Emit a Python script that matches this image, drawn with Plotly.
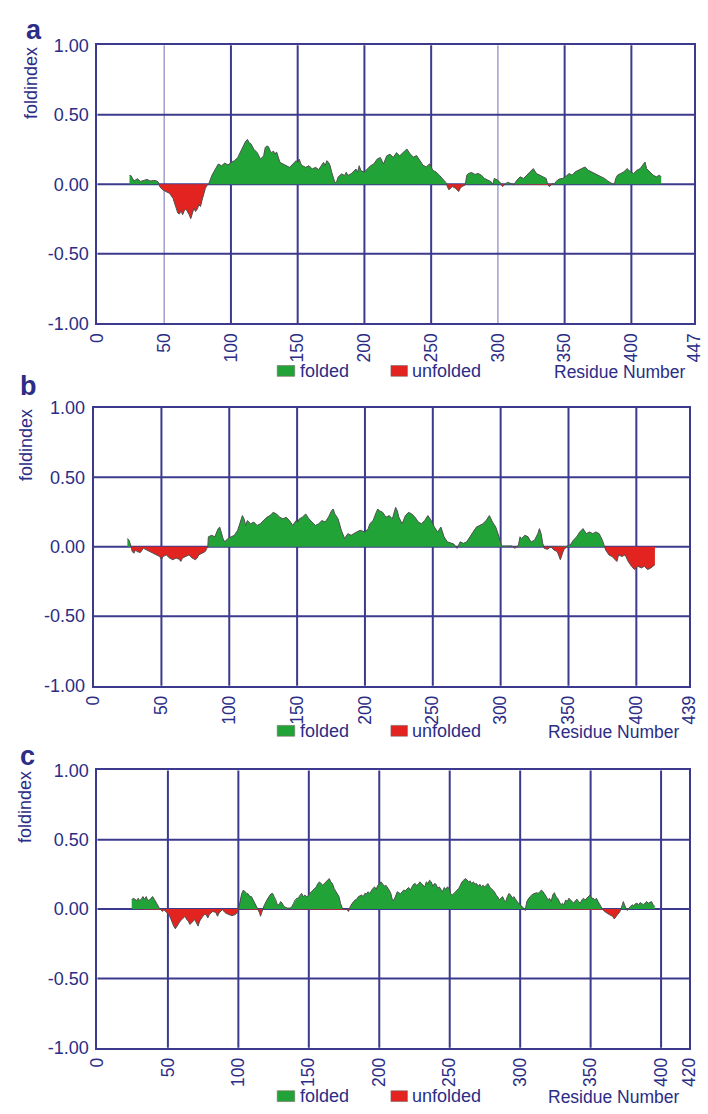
import plotly.graph_objects as go

# FoldIndex profiles (window 51) for three proteins: residue number vs. foldindex

# --- panel a (447 residues) ---
LEN_A = 447
RES_A = [24.0, 25.0, 27.4, 29.9, 32.3, 34.7, 37.1, 39.6, 42.0, 44.4, 45.6, 46.8, 49.3, 51.7, 54.1,
         56.6, 57.8, 59.0, 60.2, 61.4, 62.6, 63.8, 65.0, 66.3, 67.5, 68.7, 69.9, 71.1, 72.3, 73.5,
         74.8, 76.0, 77.2, 78.4, 79.6, 80.8, 82.0, 83.3, 85.7, 88.1, 90.5, 93.0, 95.4, 97.8, 100.2,
         102.7, 105.1, 107.5, 109.9, 111.1, 112.4, 113.6, 114.8, 116.0, 117.2, 119.7, 122.1, 124.5,
         125.7, 126.9, 128.1, 129.4, 130.6, 131.8, 133.0, 134.2, 135.4, 136.7, 139.1, 141.5, 143.9,
         146.4, 148.8, 150.0, 151.2, 152.4, 153.6, 156.1, 158.5, 160.9, 163.3, 165.8, 168.2, 169.4,
         170.6, 171.8, 173.1, 174.3, 175.5, 176.7, 177.9, 179.1, 180.3, 182.8, 185.2, 186.4, 187.6,
         190.0, 192.5, 193.7, 194.9, 196.1, 197.3, 199.8, 202.2, 204.6, 207.0, 209.5, 211.9, 214.3,
         216.7, 219.2, 221.6, 224.0, 226.4, 228.9, 231.8, 234.2, 236.7, 239.1, 241.5, 243.9, 246.4,
         248.8, 251.2, 253.6, 256.1, 258.5, 260.9, 262.1, 263.3, 265.8, 268.2, 270.6, 271.8, 273.1,
         275.5, 276.7, 277.9, 280.3, 282.8, 285.2, 287.6, 290.0, 292.5, 294.9, 296.1, 297.3, 299.8,
         302.2, 303.4, 304.6, 307.1, 309.5, 311.9, 314.3, 316.7, 319.2, 321.6, 324.0, 326.5, 328.9,
         331.3, 333.7, 336.2, 337.4, 338.6, 341.0, 342.2, 343.4, 345.9, 348.3, 350.7, 353.2, 355.6,
         358.0, 360.4, 362.9, 365.3, 367.7, 370.1, 372.6, 375.0, 377.4, 379.9, 382.3, 384.7, 387.1,
         388.3, 389.6, 392.0, 394.4, 396.8, 399.3, 401.7, 404.1, 406.6, 409.0, 410.2, 411.4, 413.9,
         416.3, 418.7, 421.1, 422.3]
FI_A = [0.064, 0.064, 0.024, 0.040, 0.021, 0.028, 0.035, 0.024, 0.028, 0.024, 0.016, -0.019, -0.042,
        -0.054, -0.066, -0.101, -0.137, -0.172, -0.207, -0.214, -0.191, -0.219, -0.191, -0.177,
        -0.196, -0.219, -0.247, -0.207, -0.172, -0.196, -0.177, -0.148, -0.160, -0.113, -0.066,
        -0.031, -0.007, 0.000, 0.064, 0.110, 0.146, 0.134, 0.153, 0.139, 0.158, 0.170, 0.193,
        0.240, 0.287, 0.311, 0.323, 0.299, 0.294, 0.271, 0.252, 0.228, 0.181, 0.205, 0.264, 0.276,
        0.271, 0.240, 0.228, 0.240, 0.217, 0.233, 0.193, 0.158, 0.146, 0.134, 0.122, 0.146, 0.170,
        0.158, 0.181, 0.146, 0.134, 0.122, 0.134, 0.110, 0.122, 0.106, 0.146, 0.158, 0.134, 0.170,
        0.158, 0.134, 0.087, 0.040, 0.012, 0.016, 0.052, 0.075, 0.064, 0.087, 0.064, 0.075, 0.099,
        0.110, 0.087, 0.134, 0.099, 0.087, 0.110, 0.134, 0.146, 0.181, 0.193, 0.146, 0.205, 0.217,
        0.193, 0.228, 0.205, 0.228, 0.254, 0.219, 0.196, 0.207, 0.172, 0.137, 0.125, 0.148, 0.101,
        0.089, 0.066, 0.038, 0.014, -0.016, -0.040, -0.016, -0.028, -0.052, -0.028, -0.016,
        -0.005, 0.066, 0.078, 0.085, 0.071, 0.078, 0.066, 0.042, 0.031, 0.019, -0.005, 0.042,
        0.031, 0.007, -0.016, -0.005, 0.014, 0.007, -0.005, 0.031, 0.054, 0.042, 0.066, 0.090,
        0.113, 0.078, 0.066, 0.054, 0.042, -0.005, -0.016, 0.007, -0.005, 0.019, 0.038, 0.042,
        0.054, 0.078, 0.066, 0.090, 0.101, 0.113, 0.125, 0.101, 0.090, 0.078, 0.066, 0.054, 0.042,
        0.024, 0.007, -0.005, 0.042, 0.066, 0.078, 0.090, 0.113, 0.090, 0.078, 0.101, 0.113, 0.148,
        0.160, 0.113, 0.090, 0.066, 0.054, 0.066, 0.054]

# --- panel b (439 residues) ---
LEN_B = 439
RES_B = [24.9, 26.1, 27.3, 28.5, 29.7, 30.9, 32.1, 34.5, 35.7, 36.9, 39.2, 41.6, 44.0, 46.4, 48.8,
         50.0, 51.2, 53.6, 56.0, 58.4, 60.8, 63.1, 64.3, 65.5, 67.9, 70.3, 72.7, 75.1, 76.3, 77.5,
         79.9, 82.3, 83.5, 84.2, 84.6, 87.0, 89.4, 91.8, 93.0, 94.2, 95.4, 96.6, 99.0, 101.4, 103.8,
         106.2, 108.5, 109.7, 110.9, 112.1, 113.3, 115.7, 118.1, 120.5, 122.9, 125.3, 127.7, 130.0,
         132.4, 134.8, 137.2, 139.6, 142.0, 144.4, 146.8, 149.2, 150.4, 151.6, 153.9, 156.3, 158.7,
         161.1, 163.5, 165.9, 168.3, 170.7, 173.1, 175.4, 176.6, 177.8, 180.2, 182.6, 185.0, 187.4,
         189.8, 191.7, 194.0, 196.4, 200.0, 202.4, 203.6, 206.0, 208.3, 209.5, 210.7, 213.1, 215.5,
         217.9, 220.2, 222.6, 223.8, 225.0, 227.4, 229.8, 232.1, 234.5, 236.9, 239.3, 241.7, 244.0,
         246.4, 248.8, 251.2, 253.6, 256.0, 258.3, 260.7, 263.1, 265.5, 267.9, 270.2, 272.6, 275.0,
         277.4, 279.8, 282.1, 284.5, 286.9, 289.3, 291.7, 294.0, 296.4, 298.8, 300.7, 303.6, 306.0,
         308.3, 310.7, 313.1, 314.3, 315.5, 317.9, 320.2, 321.4, 322.6, 325.0, 327.4, 328.6, 329.8,
         331.0, 332.1, 334.5, 336.9, 339.3, 341.7, 344.0, 345.2, 346.4, 347.6, 348.8, 351.2, 353.6,
         356.0, 358.3, 360.7, 363.1, 365.5, 367.9, 370.2, 372.6, 375.0, 376.2, 377.4, 379.8, 382.1,
         384.5, 385.7, 386.9, 389.3, 391.7, 394.0, 396.4, 398.8, 401.2, 403.6, 406.0, 408.3, 410.7,
         411.9, 413.7]
FI_B = [0.059, 0.047, 0.012, -0.035, -0.047, -0.024, -0.035, -0.042, -0.024, -0.012, -0.024,
        -0.035, -0.047, -0.059, -0.071, -0.094, -0.071, -0.059, -0.082, -0.094, -0.082, -0.090,
        -0.106, -0.082, -0.071, -0.059, -0.082, -0.094, -0.082, -0.059, -0.047, -0.035, -0.012,
        0.000, 0.071, 0.082, 0.071, 0.130, 0.141, 0.094, 0.059, 0.035, 0.059, 0.071, 0.082, 0.118,
        0.188, 0.224, 0.200, 0.153, 0.188, 0.165, 0.177, 0.153, 0.165, 0.188, 0.212, 0.224, 0.247,
        0.236, 0.212, 0.200, 0.212, 0.188, 0.153, 0.188, 0.177, 0.200, 0.212, 0.236, 0.200, 0.177,
        0.153, 0.165, 0.188, 0.177, 0.212, 0.259, 0.271, 0.236, 0.200, 0.118, 0.059, 0.094, 0.082,
        0.094, 0.106, 0.118, 0.106, 0.130, 0.165, 0.188, 0.247, 0.271, 0.259, 0.247, 0.212, 0.224,
        0.200, 0.283, 0.259, 0.212, 0.165, 0.224, 0.247, 0.236, 0.212, 0.177, 0.165, 0.188, 0.224,
        0.188, 0.141, 0.106, 0.141, 0.071, 0.035, 0.024, 0.019, -0.012, 0.035, 0.024, 0.035, 0.071,
        0.106, 0.141, 0.153, 0.165, 0.188, 0.224, 0.177, 0.141, 0.071, 0.005, 0.005, 0.005, 0.005,
        -0.012, 0.012, 0.071, 0.059, 0.082, 0.071, 0.047, 0.035, 0.047, 0.094, 0.130, 0.094, 0.024,
        -0.012, -0.019, 0.000, -0.024, -0.035, -0.094, -0.059, -0.024, -0.012, 0.005, 0.012, 0.047,
        0.071, 0.106, 0.130, 0.094, 0.106, 0.094, 0.106, 0.094, 0.047, 0.005, -0.024, -0.059,
        -0.071, -0.094, -0.106, -0.059, -0.071, -0.059, -0.106, -0.141, -0.165, -0.141, -0.153,
        -0.141, -0.165, -0.153, -0.141, -0.130]

# --- panel c (420 residues) ---
LEN_C = 420
RES_C = [24.3, 25.4, 26.6, 27.7, 28.9, 30.0, 31.1, 32.3, 33.4, 34.6, 35.7, 36.9, 38.0, 39.2, 40.3,
         41.5, 42.6, 43.8, 44.9, 46.1, 47.2, 48.4, 49.5, 50.7, 51.8, 53.0, 54.1, 55.3, 56.4, 57.6,
         58.7, 59.9, 61.0, 62.2, 63.3, 64.5, 65.6, 66.8, 67.9, 69.1, 70.2, 71.4, 72.5, 73.7, 74.8,
         76.0, 77.1, 78.3, 79.4, 80.6, 81.7, 84.0, 85.2, 86.3, 87.5, 88.6, 89.8, 90.9, 93.2, 95.5,
         97.8, 99.0, 100.1, 101.3, 102.4, 103.6, 104.7, 105.9, 107.0, 108.2, 109.3, 110.5, 111.6,
         112.8, 113.9, 115.1, 115.7, 116.7, 117.4, 118.5, 119.7, 120.8, 122.0, 123.1, 124.3, 125.4,
         126.6, 127.7, 128.9, 130.0, 131.1, 132.3, 134.6, 136.9, 138.0, 139.2, 140.3, 141.5, 142.6,
         143.8, 144.9, 146.1, 147.2, 148.4, 149.5, 150.7, 153.0, 155.3, 156.4, 157.6, 158.7, 159.9,
         161.0, 162.2, 163.3, 164.5, 165.6, 166.8, 167.9, 169.1, 170.2, 171.4, 172.5, 173.7, 174.8,
         176.0, 177.1, 178.3, 179.4, 180.6, 181.7, 182.9, 184.0, 185.2, 187.5, 188.6, 189.8, 190.9,
         192.1, 193.2, 194.4, 195.5, 196.7, 197.8, 199.0, 200.1, 201.3, 202.4, 203.6, 204.7, 205.9,
         207.0, 208.2, 209.3, 210.5, 211.6, 212.8, 213.9, 215.1, 216.2, 217.4, 218.5, 219.7, 220.8,
         222.0, 223.1, 224.3, 225.4, 226.6, 227.7, 228.9, 230.0, 231.1, 232.3, 233.4, 234.6, 235.7,
         236.9, 238.0, 239.2, 240.3, 241.5, 242.6, 243.8, 244.9, 246.1, 247.2, 248.4, 249.5, 250.7,
         251.8, 253.0, 254.1, 255.3, 256.4, 257.6, 258.7, 259.9, 261.0, 262.2, 263.3, 264.5, 265.6,
         266.8, 267.9, 269.1, 270.2, 271.4, 272.5, 273.7, 274.8, 276.0, 277.1, 278.3, 279.4, 280.6,
         281.7, 282.9, 284.0, 285.2, 286.3, 287.5, 288.6, 289.8, 290.9, 292.1, 293.2, 294.4, 295.5,
         296.7, 297.8, 299.0, 300.1, 301.3, 302.4, 303.6, 304.7, 305.9, 307.0, 308.2, 309.3, 311.6,
         312.8, 313.9, 315.1, 316.2, 317.4, 318.5, 319.7, 320.8, 322.0, 323.1, 324.3, 325.4, 326.6,
         327.7, 328.9, 330.0, 331.1, 332.3, 333.4, 334.6, 335.7, 336.9, 338.0, 339.2, 340.3, 341.5,
         342.6, 343.8, 344.9, 346.1, 347.2, 348.4, 349.5, 350.7, 351.8, 353.0, 354.1, 355.3, 356.4,
         357.6, 358.7, 359.9, 361.0, 362.2, 363.3, 364.5, 365.6, 366.8, 368.0, 369.1, 370.2, 371.4,
         372.5, 373.2, 374.1, 374.8, 376.0, 377.1, 378.3, 379.4, 380.6, 381.7, 382.9, 384.0, 385.2,
         386.4, 387.5, 388.6, 389.8, 390.9, 392.1, 393.2, 394.4, 395.5]
FI_C = [0.066, 0.078, 0.071, 0.061, 0.078, 0.061, 0.071, 0.090, 0.071, 0.090, 0.061, 0.066, 0.078,
        0.090, 0.071, 0.054, 0.031, 0.007, -0.005, -0.017, -0.005, -0.017, -0.028, -0.040, -0.064,
        -0.099, -0.123, -0.142, -0.123, -0.111, -0.087, -0.076, -0.064, -0.052, -0.076, -0.087,
        -0.111, -0.099, -0.087, -0.076, -0.099, -0.123, -0.087, -0.064, -0.052, -0.040, -0.040,
        -0.064, -0.040, -0.028, -0.017, -0.024, -0.052, -0.028, -0.017, -0.005, -0.017, -0.028,
        -0.040, -0.047, -0.040, -0.028, -0.005, 0.066, 0.113, 0.137, 0.125, 0.113, 0.109, 0.090,
        0.090, 0.066, 0.042, 0.019, -0.005, -0.028, -0.052, -0.017, 0.007, 0.031, 0.054, 0.078,
        0.094, 0.109, 0.113, 0.090, 0.066, 0.031, 0.031, 0.054, 0.042, 0.019, 0.007, 0.007, 0.019,
        0.042, 0.066, 0.078, 0.078, 0.101, 0.113, 0.090, 0.101, 0.090, 0.094, 0.113, 0.137, 0.160,
        0.184, 0.196, 0.184, 0.172, 0.184, 0.196, 0.208, 0.220, 0.196, 0.184, 0.149, 0.125, 0.113,
        0.090, 0.042, 0.007, -0.005, 0.000, -0.005, -0.017, 0.019, 0.042, 0.054, 0.066, 0.071,
        0.090, 0.101, 0.090, 0.113, 0.109, 0.125, 0.113, 0.137, 0.149, 0.160, 0.142, 0.172, 0.179,
        0.196, 0.184, 0.165, 0.172, 0.156, 0.137, 0.113, 0.066, 0.066, 0.101, 0.125, 0.118, 0.109,
        0.125, 0.137, 0.132, 0.149, 0.156, 0.137, 0.160, 0.179, 0.184, 0.172, 0.179, 0.196, 0.184,
        0.172, 0.160, 0.196, 0.184, 0.208, 0.196, 0.165, 0.184, 0.179, 0.149, 0.160, 0.142, 0.125,
        0.156, 0.142, 0.160, 0.149, 0.113, 0.101, 0.113, 0.125, 0.137, 0.149, 0.172, 0.196, 0.208,
        0.220, 0.212, 0.196, 0.203, 0.184, 0.196, 0.179, 0.184, 0.165, 0.179, 0.160, 0.172, 0.160,
        0.172, 0.184, 0.160, 0.149, 0.137, 0.125, 0.101, 0.090, 0.066, 0.078, 0.090, 0.066, 0.054,
        0.090, 0.113, 0.101, 0.078, 0.090, 0.066, 0.054, 0.042, 0.031, 0.019, 0.007, -0.010, 0.054,
        0.078, 0.090, 0.101, 0.109, 0.118, 0.113, 0.125, 0.137, 0.125, 0.109, 0.090, 0.066, 0.078,
        0.054, 0.101, 0.118, 0.090, 0.078, 0.054, 0.031, 0.042, 0.031, 0.066, 0.054, 0.078, 0.066,
        0.054, 0.042, 0.061, 0.071, 0.054, 0.042, 0.066, 0.078, 0.066, 0.078, 0.090, 0.101, 0.078,
        0.078, 0.066, 0.078, 0.054, 0.031, 0.007, -0.005, -0.017, -0.028, -0.033, -0.040, -0.047,
        -0.052, -0.071, -0.052, -0.040, -0.028, -0.005, 0.031, 0.054, 0.031, 0.007, -0.010, 0.007,
        0.019, 0.031, 0.024, 0.038, 0.042, 0.031, 0.047, 0.038, 0.031, 0.042, 0.054, 0.042, 0.047,
        0.054, 0.031, 0.019]

X_TICKS = [0, 50, 100, 150, 200, 250, 300, 350, 400]
Y_TICKS = [-1.0, -0.5, 0.0, 0.5, 1.0]
Y_TICK_TEXT = ["-1.00", "-0.50", "0.00", "0.50", "1.00"]
PANEL_LETTERS = ["a", "b", "c"]
LEGEND_LABELS = ["folded", "unfolded"]
X_TITLE = "Residue Number"
Y_TITLE = "foldindex"

# ---------------------------------------------------------------- styling
W, H = 708, 1114
NAVY = "#2b2d86"
GRID = "#3c3a8c"
GRID_LIGHT = "#a09fcf"
GREEN = "#22a338"
RED = "#e3231f"
EDGE = "#4f4f4f"
FONT = "Liberation Sans, Arial, sans-serif"


def px(x):
    """pixel column -> paper x"""
    return x / W


def py(y):
    """pixel row (from the top) -> paper y"""
    return 1 - y / H


# pixel geometry of each panel: plot box (left, right, top, bottom),
# legend row centre, and label positions
PANELS = [
    dict(res=RES_A, fi=FI_A, n=LEN_A, box=(90, 704, 36, 319), leg_y=367.5, title_right=697,
         letter=(24.5, 20.5), ytitle=(21.5, 74.5), light=[50, 300]),
    dict(res=RES_B, fi=FI_B, n=LEN_B, box=(86, 699, 405, 688), leg_y=734, title_right=690,
         letter=(19.5, 383), ytitle=(16, 443.5), light=[]),
    dict(res=RES_C, fi=FI_C, n=LEN_C, box=(90, 699, 774.3, 1056.7), leg_y=1106, title_right=691,
         letter=(17.5, 760), ytitle=(16, 812), light=[]),
]


def split_signed(res, val):
    """Split a profile into its folded (>=0) and unfolded (<=0) parts,
    inserting the zero crossings so both fills meet the baseline."""
    xs, pos, neg = [], [], []
    for i, (r, v) in enumerate(zip(res, val)):
        if i > 0:
            r0, v0 = res[i - 1], val[i - 1]
            if v0 * v < 0:
                xc = r0 + (r - r0) * v0 / (v0 - v)
                xs.append(xc)
                pos.append(0.0)
                neg.append(0.0)
        xs.append(r)
        pos.append(max(v, 0.0))
        neg.append(min(v, 0.0))
    return xs, pos, neg


fig = go.Figure()
shapes = []
annotations = []
layout_axes = {}

for k, p in enumerate(PANELS):
    sfx = "" if k == 0 else str(k + 1)
    xref, yref = "x" + sfx, "y" + sfx
    left, right, top, bottom = p["box"]

    xs, pos, neg = split_signed(p["res"], p["fi"])
    fig.add_trace(go.Scatter(x=xs, y=pos, mode="lines", fill="tozeroy", fillcolor=GREEN,
                             line=dict(width=0, color=GREEN), name=LEGEND_LABELS[0],
                             showlegend=False, xaxis=xref, yaxis=yref, hoverinfo="skip"))
    fig.add_trace(go.Scatter(x=xs, y=neg, mode="lines", fill="tozeroy", fillcolor=RED,
                             line=dict(width=0, color=RED), name=LEGEND_LABELS[1],
                             showlegend=False, xaxis=xref, yaxis=yref, hoverinfo="skip"))
    fig.add_trace(go.Scatter(x=p["res"], y=p["fi"], mode="lines",
                             line=dict(width=1, color=EDGE), showlegend=False,
                             xaxis=xref, yaxis=yref, name=Y_TITLE))

    xvals = X_TICKS + [p["n"]]
    layout_axes["xaxis" + sfx] = dict(
        domain=[px(left), px(right)], anchor=yref, range=[0, p["n"]],
        tickmode="array", tickvals=xvals, ticktext=[str(v) for v in xvals], tickangle=-90,
        showgrid=False, zeroline=False, showline=True, linecolor=GRID, linewidth=2, mirror=True,
        ticks="", ticklabelstandoff=1, ticklabeloverflow="allow",
        tickfont=dict(family=FONT, size=17.5, color=NAVY), fixedrange=True)
    layout_axes["yaxis" + sfx] = dict(
        domain=[py(bottom), py(top)], anchor=xref, range=[-1, 1],
        tickmode="array", tickvals=Y_TICKS, ticktext=Y_TICK_TEXT,
        showgrid=False, zeroline=False, showline=True, linecolor=GRID, linewidth=2, mirror=True,
        ticks="", ticklabelstandoff=3, ticklabeloverflow="allow",
        tickfont=dict(family=FONT, size=18, color=NAVY), fixedrange=True)

    # grid lines sit beneath the filled profile
    for v in X_TICKS[1:]:
        col, wid = (GRID_LIGHT, 1.5) if v in p["light"] else (GRID, 2)
        shapes.append(dict(type="line", xref=xref, yref=yref + " domain", x0=v, x1=v, y0=0, y1=1,
                           line=dict(color=col, width=wid), layer="below"))
    for v in Y_TICKS[1:-1]:
        shapes.append(dict(type="line", xref=xref + " domain", yref=yref, x0=0, x1=1, y0=v, y1=v,
                           line=dict(color=GRID, width=2), layer="below"))

    # legend row: swatches, labels and the x-axis title
    ly = p["leg_y"]
    for (x0, x1, tx), lab, col in zip([(275, 293, 296), (392, 409, 412)], LEGEND_LABELS, [GREEN, RED]):
        shapes.append(dict(type="rect", xref="paper", yref="paper", x0=px(x0), x1=px(x1),
                           y0=py(ly + 5.5), y1=py(ly - 5.5), fillcolor=col,
                           line=dict(color="#7a6a6a", width=0.6)))
        annotations.append(dict(text=lab, xref="paper", yref="paper", x=px(tx), y=py(ly),
                                xanchor="left", yanchor="middle", showarrow=False,
                                font=dict(family=FONT, size=18, color=NAVY)))
    annotations.append(dict(text=X_TITLE, xref="paper", yref="paper", x=px(p["title_right"]),
                            y=py(ly + 1), xanchor="right", yanchor="middle", showarrow=False,
                            font=dict(family=FONT, size=17.5, color=NAVY)))

    # y title and panel letter
    annotations.append(dict(text=Y_TITLE, xref="paper", yref="paper", x=px(p["ytitle"][0]),
                            y=py(p["ytitle"][1]), xanchor="center", yanchor="middle",
                            textangle=-90, showarrow=False,
                            font=dict(family=FONT, size=18, color=NAVY)))
    annotations.append(dict(text="<b>" + PANEL_LETTERS[k] + "</b>", xref="paper", yref="paper",
                            x=px(p["letter"][0]), y=py(p["letter"][1]), xanchor="center",
                            yanchor="middle", showarrow=False,
                            font=dict(family=FONT, size=27, color=NAVY)))

fig.update_layout(
    width=W, height=H, margin=dict(l=0, r=0, t=0, b=0),
    paper_bgcolor="white", plot_bgcolor="white",
    showlegend=False, shapes=shapes, annotations=annotations,
    **layout_axes,
)

fig.write_html("out.html", config={"displayModeBar": False})
